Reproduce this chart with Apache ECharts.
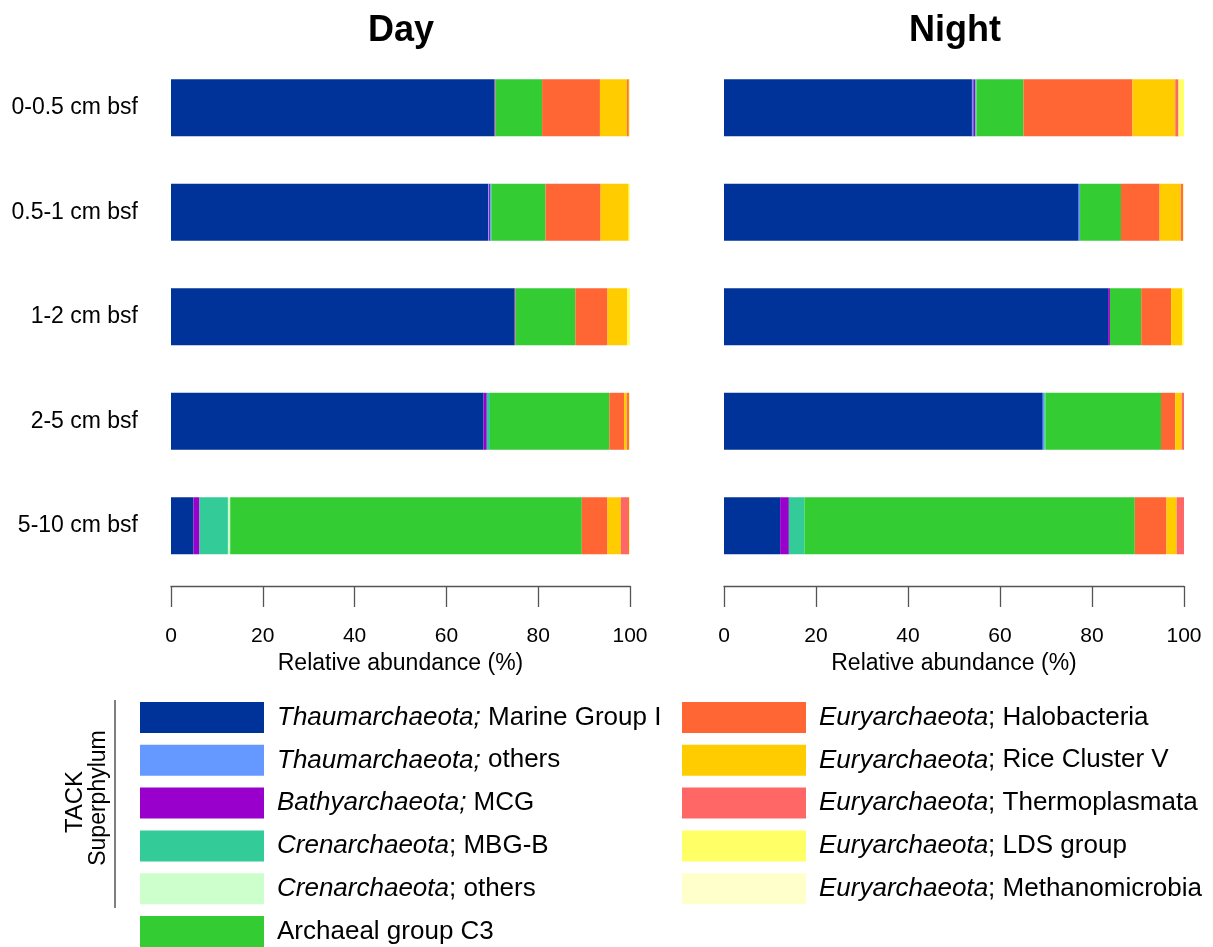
<!DOCTYPE html>
<html>
<head>
<meta charset="utf-8">
<script src="https://cdn.jsdelivr.net/npm/echarts@6/dist/echarts.min.js"></script>
<style>
html,body{margin:0;padding:0;background:#fff;}
#c{width:1213px;height:947px;}
</style>
</head>
<body>
<div id="c"></div>
<script>
const categories = ['0-0.5 cm bsf', '0.5-1 cm bsf', '1-2 cm bsf', '2-5 cm bsf', '5-10 cm bsf'];
const panels = ['Day', 'Night'];
const ticks = [0, 20, 40, 60, 80, 100];

const taxa = [
  'Thaumarchaeota; Marine Group I',
  'Thaumarchaeota; others',
  'Bathyarchaeota; MCG',
  'Crenarchaeota; MBG-B',
  'Crenarchaeota; others',
  'Archaeal group C3',
  'Euryarchaeota; Halobacteria',
  'Euryarchaeota; Rice Cluster V',
  'Euryarchaeota; Thermoplasmata',
  'Euryarchaeota; LDS group',
  'Euryarchaeota; Methanomicrobia'
];
const legendRich = [
  '{i|Thaumarchaeota;} Marine Group I',
  '{i|Thaumarchaeota;} others',
  '{i|Bathyarchaeota;} MCG',
  '{i|Crenarchaeota}; MBG-B',
  '{i|Crenarchaeota}; others',
  'Archaeal group C3',
  '{i|Euryarchaeota}; Halobacteria',
  '{i|Euryarchaeota}; Rice Cluster V',
  '{i|Euryarchaeota}; Thermoplasmata',
  '{i|Euryarchaeota}; LDS group',
  '{i|Euryarchaeota}; Methanomicrobia'
];
const colors = ['#003399', '#6699FF', '#9900CC', '#33CC99', '#CCFFCC', '#33CC33',
                '#FF6633', '#FFCC00', '#FF6666', '#FFFF66', '#FFFFCC'];

// values per taxon, one entry per depth (top to bottom)
const dayMGI     = [70.4, 69.1, 74.8, 68.1, 4.9];
const dayThOth   = [0.05, 0.2, 0, 0, 0];
const dayMCG     = [0.2, 0.3, 0.2, 0.7, 1.3];
const dayMBGB    = [0, 0.3, 0, 0.7, 6.2];
const dayCrenOth = [0, 0, 0, 0, 0.5];
const dayC3      = [10.2, 11.7, 13.1, 26.0, 76.6];
const dayHalo    = [12.6, 12.0, 7.0, 3.2, 5.6];
const dayRCV     = [5.9, 6.1, 4.3, 0.6, 2.9];
const dayThermo  = [0.4, 0, 0, 0.5, 1.8];
const dayLDS     = [0.3, 0.3, 0.6, 0.2, 0.2];
const dayMethano = [0, 0, 0, 0, 0];

const nightMGI     = [53.9, 77.1, 83.5, 69.3, 12.2];
const nightThOth   = [0.3, 0.3, 0, 0.3, 0];
const nightMCG     = [0.4, 0, 0.4, 0, 1.9];
const nightMBGB    = [0.3, 0, 0, 0.3, 3.4];
const nightCrenOth = [0, 0, 0, 0, 0];
const nightC3      = [10.2, 8.9, 6.8, 25.1, 71.8];
const nightHalo    = [23.7, 8.4, 6.5, 3.1, 6.9];
const nightRCV     = [9.3, 4.6, 2.4, 1.4, 2.2];
const nightThermo  = [0.7, 0.5, 0, 0.5, 1.6];
const nightLDS     = [1.2, 0.2, 0.4, 0, 0];
const nightMethano = [0, 0, 0, 0, 0];

const dayData = [dayMGI, dayThOth, dayMCG, dayMBGB, dayCrenOth, dayC3, dayHalo, dayRCV, dayThermo, dayLDS, dayMethano];
const nightData = [nightMGI, nightThOth, nightMCG, nightMBGB, nightCrenOth, nightC3, nightHalo, nightRCV, nightThermo, nightLDS, nightMethano];

const FONT = 'Liberation Sans, Arial, sans-serif';
const chart = echarts.init(document.getElementById('c'), null, {renderer: 'canvas'});

const series = [];
[dayData, nightData].forEach((pd, p) => {
  pd.forEach((vals, k) => {
    series.push({
      name: taxa[k],
      type: 'bar',
      stack: 'p' + p,
      xAxisIndex: p,
      yAxisIndex: p,
      barWidth: 57,
      data: vals,
      itemStyle: {color: colors[k]},
      emphasis: {disabled: true},
      animation: false
    });
  });
});

const xAxisCommon = {
  type: 'value', min: 0, max: 100, interval: 20,
  position: 'bottom', offset: 8,
  splitLine: {show: false},
  axisLine: {show: true, lineStyle: {color: '#555', width: 1.3}},
  axisTick: {show: true, length: 21, lineStyle: {color: '#555', width: 1.3}},
  axisLabel: {color: '#000', fontSize: 21, fontFamily: FONT, margin: 40,
              formatter: v => ticks.includes(v) ? String(v) : ''},
  name: 'Relative abundance (%)', nameLocation: 'middle', nameGap: 65,
  nameTextStyle: {color: '#000', fontSize: 23, fontFamily: FONT}
};

const legendCommon = {
  orient: 'vertical', icon: 'rect', itemWidth: 124, itemHeight: 31, itemGap: 11.8,
  padding: 0, height: 250,
  selectedMode: false,
  formatter: name => legendRich[taxa.indexOf(name)],
  textStyle: {color: '#000', fontSize: 26, fontFamily: FONT, padding: [0, 0, 0, 8],
              rich: {i: {fontStyle: 'italic', fontSize: 26, fontFamily: FONT, color: '#000'}}}
};

chart.setOption({
  backgroundColor: '#fff',
  animation: false,
  title: [
    {text: panels[0], left: 396, top: 8, textAlign: 'center',
     textStyle: {fontSize: 36, fontWeight: 'bold', fontFamily: FONT, color: '#000'}},
    {text: panels[1], left: 950, top: 8, textAlign: 'center',
     textStyle: {fontSize: 36, fontWeight: 'bold', fontFamily: FONT, color: '#000'}}
  ],
  grid: [
    {left: 171, width: 459, top: 55.6, height: 522.4},
    {left: 724, width: 460, top: 55.6, height: 522.4}
  ],
  xAxis: [Object.assign({gridIndex: 0}, xAxisCommon), Object.assign({gridIndex: 1}, xAxisCommon)],
  yAxis: [
    {type: 'category', gridIndex: 0, data: categories, inverse: true,
     axisLine: {show: false}, axisTick: {show: false},
     axisLabel: {color: '#000', fontSize: 23, fontFamily: FONT, margin: 33}},
    {type: 'category', gridIndex: 1, data: categories, inverse: true,
     axisLine: {show: false}, axisTick: {show: false}, axisLabel: {show: false}}
  ],
  legend: [
    Object.assign({left: 140, top: 702, data: taxa.slice(0, 6)}, legendCommon),
    Object.assign({left: 682, top: 702, data: taxa.slice(6)}, legendCommon)
  ],
  graphic: [
    {type: 'text', x: 75, y: 802, rotation: Math.PI / 2,
     style: {text: 'TACK', fontSize: 24, fontFamily: FONT, fill: '#000', align: 'center', verticalAlign: 'middle'}},
    {type: 'text', x: 99, y: 798, rotation: Math.PI / 2,
     style: {text: 'Superphylum', fontSize: 23, fontFamily: FONT, fill: '#000', align: 'center', verticalAlign: 'middle'}},
    {type: 'line', shape: {x1: 115, y1: 700, x2: 115, y2: 908},
     style: {stroke: '#555', lineWidth: 1.5}}
  ],
  series: series
});
</script>
</body>
</html>
